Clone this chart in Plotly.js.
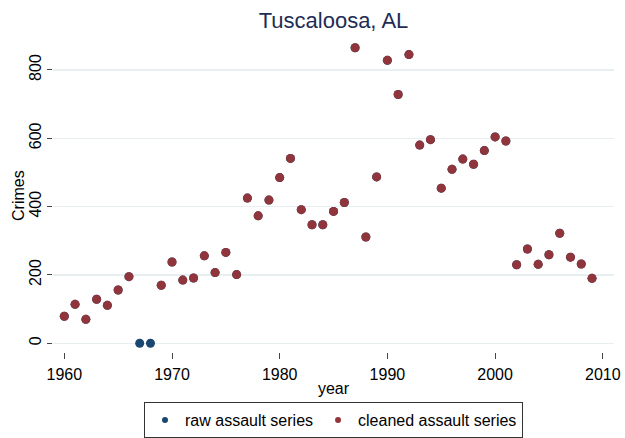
<!DOCTYPE html>
<html>
<head>
<meta charset="utf-8">
<script src="https://cdn.plot.ly/plotly-3.0.1.min.js"></script>
<style>html,body{margin:0;padding:0;background:#fff;}#chart{width:625px;height:438px;}</style>
</head>
<body>
<div id="chart"></div>
<script>
const years = [1960,1961,1962,1963,1964,1965,1966,1967,1968,1969,
  1970,1971,1972,1973,1974,1975,1976,1977,1978,1979,
  1980,1981,1982,1983,1984,1985,1986,1987,1988,1989,
  1990,1991,1992,1993,1994,1995,1996,1997,1998,1999,
  2000,2001,2002,2003,2004,2005,2006,2007,2008,2009];
const rawAssault = [79,114,70,129,111,156,195,0,0,170,
  238,185,191,256,207,266,201,425,373,419,
  485,541,391,347,347,386,412,865,311,487,
  828,728,845,580,596,454,509,539,524,564,
  604,592,230,276,231,259,322,252,232,190];
const cleanedAssault = [79,114,70,129,111,156,195,null,null,170,
  238,185,191,256,207,266,201,425,373,419,
  485,541,391,347,347,386,412,865,311,487,
  828,728,845,580,596,454,509,539,524,564,
  604,592,230,276,231,259,322,252,232,190];
const seriesNames = ['raw assault series', 'cleaned assault series'];
const xTicks = [1960,1970,1980,1990,2000,2010];
const yTicks = [0,200,400,600,800];

const FONT = 'Liberation Sans, Arial, Helvetica, sans-serif';
const COLORS = ['#1a476f', '#90353b'];
const traces = [
  {x: years, y: rawAssault, type: 'scatter', mode: 'markers', name: seriesNames[0], showlegend: false,
   marker: {color: COLORS[0], size: 9, line: {width: 0}}},
  {x: years, y: cleanedAssault, type: 'scatter', mode: 'markers', name: seriesNames[1], showlegend: false,
   marker: {color: COLORS[1], size: 9, line: {width: 0}}},
  {x: [null], y: [null], type: 'scatter', mode: 'markers', name: seriesNames[0],
   marker: {color: COLORS[0], size: 6, line: {width: 0}}},
  {x: [null], y: [null], type: 'scatter', mode: 'markers', name: seriesNames[1],
   marker: {color: COLORS[1], size: 6, line: {width: 0}}}
];
const layout = {
  width: 625, height: 438,
  paper_bgcolor: '#ffffff', plot_bgcolor: '#ffffff',
  font: {family: FONT, size: 16, color: '#000'},
  margin: {l: 53, r: 11, t: 40, b: 86, autoexpand: false},
  title: {text: 'Tuscaloosa, AL', font: {family: FONT, size: 22, color: '#1e2d53'},
    x: 0.5, xref: 'paper', xanchor: 'center', y: 1 - 20/438, yref: 'container', yanchor: 'middle'},
  xaxis: {range: [1958.95, 2011.04], tickvals: xTicks, ticktext: xTicks.map(String),
    ticks: 'outside', ticklen: 6, tickcolor: '#444', tickwidth: 1,
    showgrid: false, zeroline: false, showline: false,
    tickfont: {size: 16}, ticklabelstandoff: 2,
    title: {text: 'year', font: {size: 16}, standoff: 0}},
  yaxis: {range: [-25.5, 887.6], tickvals: yTicks, ticktext: yTicks.map(String),
    ticks: 'outside', ticklen: 5, tickcolor: '#444', tickwidth: 1, tickangle: -90,
    showgrid: true, gridcolor: '#e8eff1', gridwidth: 1.3, zeroline: false, showline: false,
    tickfont: {size: 16}},
  annotations: [{text: 'Crimes', xref: 'paper', yref: 'paper', x: (18 - 53) / 561, y: 0.5,
    xanchor: 'center', yanchor: 'middle', textangle: -90, showarrow: false, font: {size: 16}}],
  showlegend: true,
  legend: {orientation: 'h', x: 0.5, xanchor: 'center', yref: 'container', y: 1 - 420/438, yanchor: 'middle',
    bordercolor: '#333', borderwidth: 1, bgcolor: '#fff', font: {size: 16},
    itemwidth: 30, tracegroupgap: 0}
};
Plotly.newPlot('chart', traces, layout, {displayModeBar: false, staticPlot: true});
</script>
</body>
</html>
